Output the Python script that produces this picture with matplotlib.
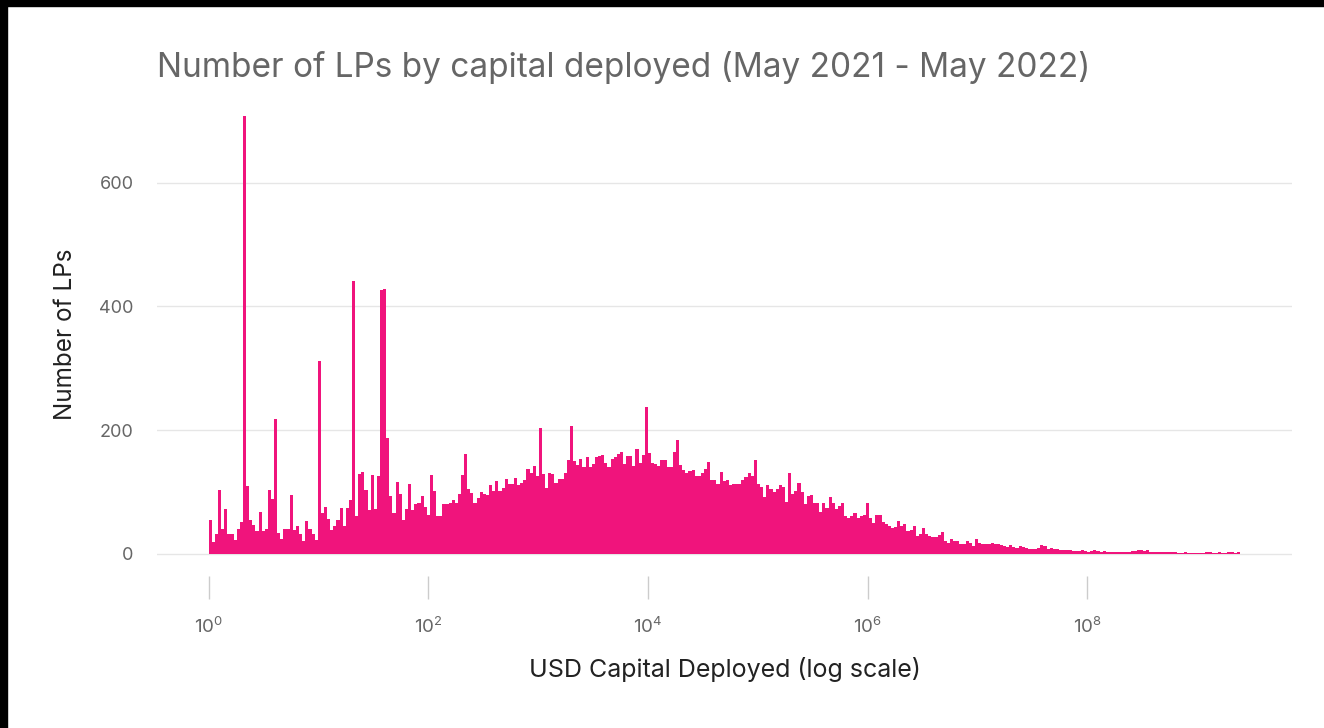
import numpy as np
import matplotlib
matplotlib.use('Agg')
from matplotlib import pyplot as plt
from matplotlib.patches import Rectangle
from matplotlib.ticker import NullLocator

counts_1_to_90 = [54, 19, 31, 103, 39, 72, 31, 31, 22, 40,
                  51, 708, 110, 54, 46, 36, 67, 36, 40, 103,
                  88, 218, 33, 24, 40, 39, 94, 38, 45, 31,
                  21, 52, 39, 31, 22, 311, 65, 75, 56, 38,
                  45, 54, 74, 44, 74, 86, 441, 61, 128, 132,
                  103, 71, 127, 72, 126, 427, 429, 187, 93, 66,
                  116, 97, 54, 72, 112, 71, 80, 82]
counts_90_to_12k = [93, 76, 63, 127, 101, 60, 61, 80, 80, 81,
                    86, 82, 97, 127, 161, 105, 98, 81, 90, 100,
                    97, 95, 111, 101, 117, 101, 106, 120, 112, 113,
                    123, 111, 115, 119, 137, 131, 142, 126, 203, 128,
                    106, 130, 129, 115, 120, 120, 130, 152, 206, 150,
                    144, 153, 140, 156, 140, 145, 156, 158, 160, 147,
                    140, 153, 157, 161, 164, 145, 158, 158, 142, 170,
                    147, 160, 238, 162, 147]
counts_12k_to_1m = [145, 142, 152, 152, 140, 140, 164, 184, 144, 135,
                    130, 133, 135, 125, 125, 131, 137, 149, 119, 119,
                    112, 132, 117, 119, 111, 112, 112, 113, 119, 124,
                    131, 126, 151, 112, 108, 91, 111, 104, 100, 104,
                    111, 107, 84, 130, 97, 101, 115, 99, 80, 93,
                    95, 82, 82, 68, 82, 73, 91, 81, 72, 77,
                    82, 61, 57, 61, 66, 58, 61, 62, 82, 57,
                    50, 63, 62, 51, 48, 44, 41]
counts_1m_to_100m = [43, 53, 44, 47, 37, 38, 45, 28, 31, 41,
                     31, 28, 26, 26, 30, 35, 21, 17, 24, 20,
                     20, 16, 15, 21, 17, 12, 23, 17, 15, 15,
                     16, 17, 16, 15, 14, 12, 10, 14, 10, 9,
                     12, 10, 9, 8, 7, 8, 9, 14, 12, 8,
                     9, 8, 8, 6, 5, 6, 5, 4, 4, 4,
                     5, 4, 3, 4, 5, 4, 3, 4, 3, 2,
                     2, 2, 3, 2, 3]
counts_above_100m = [3, 4, 4, 5, 5, 4, 5, 3, 3, 2,
                     2, 2, 3, 2, 2, 2, 1, 1, 2, 1,
                     1, 1, 1, 1, 1, 2, 2, 1, 1, 2,
                     1, 1, 3, 2, 1, 2]

log_lo = 0.0   # first bin starts at $1
log_hi = 9.39  # last bin ends around $2.5B

y_ticks = [0, 200, 400, 600]
x_tick_exps = [0, 2, 4, 6, 8]

title = 'Number of LPs by capital deployed (May 2021 - May 2022)'
xlabel = 'USD Capital Deployed (log scale)'
ylabel = 'Number of LPs'

PINK = '#F0147C'
GREY = '#666666'

plt.rcParams['font.family'] = ['Inter', 'DejaVu Sans']
plt.rcParams['mathtext.fontset'] = 'custom'
plt.rcParams['mathtext.rm'] = 'Inter'
plt.rcParams['mathtext.it'] = 'Inter:italic'

W, H = 1324, 728
fig = plt.figure(figsize=(W / 100, H / 100), dpi=100)
ax = fig.add_axes([157 / W, 1 - 576 / H, (1292 - 157) / W, (576 - 93) / H])

counts = np.array(counts_1_to_90 + counts_90_to_12k + counts_12k_to_1m
                  + counts_1m_to_100m + counts_above_100m)
edges = np.logspace(log_lo, log_hi, len(counts) + 1)
ax.stairs(counts, edges, fill=True, color=PINK, lw=0, zorder=2)

ax.set_xscale('log')
ax.set_xlim(10 ** -0.471, 10 ** 9.866)
ax.set_ylim(-36.4, 745.7)

ax.set_yticks(y_ticks)
ax.yaxis.grid(True, color='#e6e6e6', lw=1)
ax.set_axisbelow(True)
ax.set_xticks([10.0 ** e for e in x_tick_exps])
ax.set_xticklabels([r'$\mathregular{10^{%d}}$' % e for e in x_tick_exps])
ax.xaxis.set_minor_locator(NullLocator())

ax.tick_params(axis='y', length=0, pad=17, labelsize=13, labelcolor=GREY)
ax.tick_params(axis='x', length=16.5, width=1, color='#cccccc', pad=13,
               labelsize=13.5, labelcolor=GREY)
for s in ax.spines.values():
    s.set_visible(False)

ax.set_xlabel(xlabel, fontsize=18, color='#222222', va='center')
ax.xaxis.set_label_coords(0.5, -0.1946)
ax.set_ylabel(ylabel, fontsize=17.5, color='#222222', va='center')
ax.yaxis.set_label_coords(-0.081, 0.5)

fig.text(157 / W, 1 - 68 / H, title, fontsize=24, color=GREY,
         ha='left', va='center')

# black strips along the top and left edge of the screenshot
fig.patches.append(Rectangle((0, 1 - 6 / H), 1, 6 / H, transform=fig.transFigure,
                             color='black', zorder=10))
fig.patches.append(Rectangle((0, 0), 7 / W, 1, transform=fig.transFigure,
                             color='black', zorder=10))

fig.savefig('out.png', dpi=100)
